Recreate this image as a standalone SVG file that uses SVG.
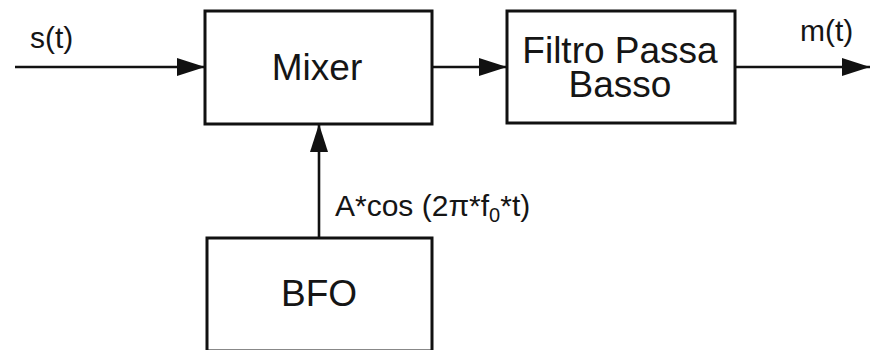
<svg xmlns="http://www.w3.org/2000/svg" width="870" height="350" viewBox="0 0 870 350">
<defs>
<style>
.box{fill:#fff;stroke:#111;stroke-width:3}
.wire{fill:none;stroke:#111;stroke-width:2.6}
.lbl{font-family:"Liberation Sans",Arial,sans-serif;fill:#151515}
.big{font-size:37px}
.sm{font-size:30px}
</style>
<marker id="ah" viewBox="0 0 28 18" refX="28" refY="9" markerWidth="28" markerHeight="18" markerUnits="userSpaceOnUse" orient="auto">
<path d="M0,0 L28,9 L0,18 Z" fill="#111"/>
</marker>
</defs>
<rect width="870" height="350" fill="#fff"/>
<g id="connectors">
<line class="wire" x1="15" y1="67" x2="205" y2="67" marker-end="url(#ah)"/>
<line class="wire" x1="432" y1="67" x2="507" y2="67" marker-end="url(#ah)"/>
<line class="wire" x1="735" y1="67" x2="870" y2="67" marker-end="url(#ah)"/>
<line class="wire" x1="319" y1="238" x2="319" y2="124" marker-end="url(#ah)"/>
<text class="lbl sm" x="30" y="48">s(t)</text>
<text class="lbl sm" x="800" y="41">m(t)</text>
<text class="lbl sm" x="335" y="216" font-size="31">A*cos (2π*f<tspan font-size="20" dy="6">0</tspan><tspan dy="-6">*t)</tspan></text>
</g>
<g id="mixer">
<rect class="box" x="205" y="11" width="227" height="113"/>
<text class="lbl big" x="317" y="80" text-anchor="middle">Mixer</text>
</g>
<g id="filtro">
<rect class="box" x="507" y="11" width="228" height="112"/>
<text class="lbl big" text-anchor="middle"><tspan x="620" y="63">Filtro Passa</tspan><tspan x="620" y="97">Basso</tspan></text>
</g>
<g id="bfo">
<rect class="box" x="207" y="238" width="225" height="113"/>
<text class="lbl big" x="319" y="306" text-anchor="middle">BFO</text>
</g>
</svg>
